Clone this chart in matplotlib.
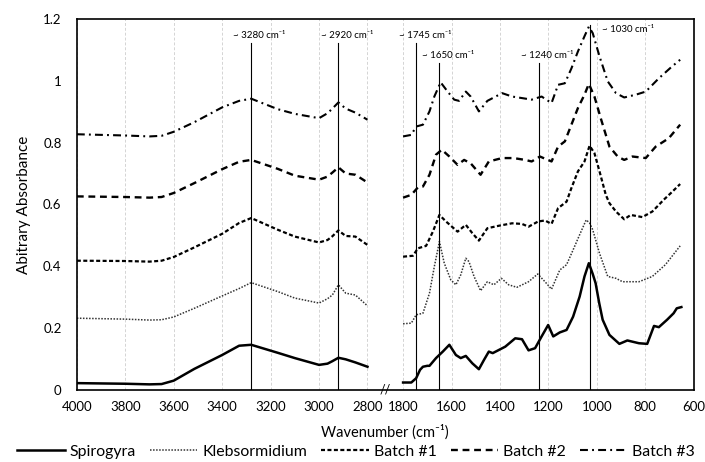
import numpy as np
import matplotlib
matplotlib.use('Agg')
import matplotlib.pyplot as plt
from matplotlib.ticker import NullLocator

plt.rcParams['font.family'] = ['Lato', 'DejaVu Sans']

# wavenumber readings, high-wavenumber block (4000-2800 cm-1)
left_wn = [4000, 3800, 3700, 3650, 3600, 3515, 3400, 3330, 3280, 3170, 3100,
           3000, 2965, 2945, 2920, 2890, 2850, 2800]
spiro_left = [0.022, 0.020, 0.018, 0.019, 0.030, 0.068, 0.113, 0.143, 0.146, 0.120, 0.103,
              0.081, 0.085, 0.093, 0.104, 0.099, 0.089, 0.075]
kleb_left = [0.232, 0.229, 0.226, 0.227, 0.236, 0.264, 0.304, 0.328, 0.347, 0.318, 0.297,
             0.281, 0.295, 0.307, 0.340, 0.313, 0.307, 0.272]
b1_left = [0.418, 0.417, 0.415, 0.418, 0.430, 0.461, 0.505, 0.540, 0.556, 0.518, 0.496,
           0.477, 0.485, 0.497, 0.516, 0.498, 0.496, 0.469]
b2_left = [0.626, 0.624, 0.622, 0.624, 0.637, 0.669, 0.714, 0.738, 0.744, 0.715, 0.693,
           0.680, 0.690, 0.703, 0.720, 0.700, 0.696, 0.671]
b3_left = [0.827, 0.823, 0.820, 0.822, 0.835, 0.866, 0.914, 0.935, 0.942, 0.908, 0.893,
           0.879, 0.895, 0.910, 0.930, 0.910, 0.897, 0.874]

# fingerprint block (1800-650 cm-1)
spiro_wn = [1800, 1766, 1746, 1730, 1718, 1700, 1691, 1664, 1636, 1609, 1582, 1562, 1541,
            1514, 1487, 1466, 1446, 1430, 1378, 1337, 1309, 1282, 1255, 1228, 1201, 1180,
            1153, 1125, 1098, 1071, 1051, 1033, 1017, 1005, 990, 976, 948, 907, 874, 826,
            792, 764, 744, 710, 683, 670, 651]
spiro_right = [0.024, 0.024, 0.038, 0.065, 0.075, 0.078, 0.078, 0.103, 0.124, 0.146, 0.113,
               0.103, 0.110, 0.086, 0.067, 0.097, 0.124, 0.119, 0.140, 0.167, 0.164, 0.128,
               0.135, 0.173, 0.210, 0.173, 0.186, 0.194, 0.237, 0.302, 0.367, 0.410, 0.375,
               0.345, 0.280, 0.227, 0.178, 0.149, 0.160, 0.151, 0.149, 0.207, 0.203, 0.227,
               0.248, 0.264, 0.268]
kleb_wn = [1800, 1766, 1746, 1718, 1691, 1671, 1650, 1630, 1603, 1582, 1562, 1541, 1528,
           1507, 1480, 1452, 1425, 1394, 1364, 1330, 1282, 1244, 1214, 1187, 1153, 1125,
           1098, 1071, 1044, 1030, 1017, 989, 955, 921, 894, 826, 771, 717, 656]
kleb_right = [0.214, 0.216, 0.243, 0.248, 0.313, 0.399, 0.480, 0.410, 0.356, 0.340, 0.372,
              0.426, 0.415, 0.367, 0.321, 0.350, 0.340, 0.361, 0.340, 0.332, 0.350, 0.375,
              0.350, 0.326, 0.388, 0.405, 0.453, 0.502, 0.550, 0.540, 0.518, 0.442, 0.367,
              0.361, 0.350, 0.350, 0.367, 0.405, 0.466]
b1_wn = [1800, 1759, 1739, 1705, 1677, 1650, 1623, 1575, 1541, 1514, 1487, 1452, 1405, 1350,
         1309, 1282, 1242, 1214, 1187, 1160, 1125, 1105, 1078, 1051, 1030, 1010, 989, 963,
         948, 921, 887, 860, 812, 771, 751, 724, 690, 656]
b1_right = [0.431, 0.434, 0.458, 0.466, 0.512, 0.566, 0.545, 0.512, 0.534, 0.507, 0.483,
            0.523, 0.531, 0.539, 0.537, 0.528, 0.545, 0.548, 0.537, 0.588, 0.609, 0.653,
            0.707, 0.739, 0.790, 0.766, 0.707, 0.631, 0.604, 0.577, 0.552, 0.566, 0.559,
            0.577, 0.593, 0.615, 0.640, 0.666]
b2_wn = [1800, 1766, 1739, 1718, 1691, 1664, 1640, 1609, 1575, 1548, 1521, 1480, 1446, 1391,
         1344, 1296, 1269, 1235, 1187, 1160, 1132, 1105, 1078, 1051, 1033, 1010, 982, 948,
         914, 887, 853, 798, 757, 703, 656]
b2_right = [0.622, 0.631, 0.655, 0.658, 0.696, 0.761, 0.777, 0.755, 0.728, 0.744, 0.733,
            0.696, 0.739, 0.750, 0.750, 0.744, 0.739, 0.755, 0.739, 0.787, 0.804, 0.858,
            0.912, 0.955, 0.990, 0.949, 0.874, 0.787, 0.755, 0.744, 0.755, 0.750, 0.787,
            0.814, 0.858]
b3_wn = [1800, 1766, 1746, 1718, 1691, 1671, 1645, 1616, 1589, 1569, 1541, 1521, 1487, 1452,
         1391, 1350, 1309, 1269, 1228, 1187, 1160, 1132, 1105, 1078, 1051, 1033, 1017, 989,
         955, 921, 887, 839, 798, 744, 690, 656]
b3_right = [0.820, 0.825, 0.852, 0.858, 0.901, 0.949, 0.995, 0.965, 0.939, 0.935, 0.965,
            0.949, 0.901, 0.935, 0.960, 0.949, 0.944, 0.939, 0.949, 0.928, 0.987, 0.992,
            1.040, 1.095, 1.144, 1.175, 1.154, 1.079, 0.998, 0.960, 0.946, 0.955, 0.965,
            1.008, 1.046, 1.068]

names = ['Spirogyra', 'Klebsormidium', 'Batch #1', 'Batch #2', 'Batch #3']

# marker lines for the assigned bands
band_wn = [3280, 2920, 1745, 1650, 1240, 1030]
band_top = [1.123, 1.123, 1.123, 1.057, 1.057, 1.18]
band_text = ['~ 3280 cm⁻¹', '~ 2920 cm⁻¹', '~ 1745 cm⁻¹', '~ 1650 cm⁻¹',
             '~ 1240 cm⁻¹', '~ 1030 cm⁻¹']

xticks = [4000, 3800, 3600, 3400, 3200, 3000, 2800, 1800, 1600, 1400, 1200, 1000, 800, 600]
yticks = [0, 0.2, 0.4, 0.6, 0.8, 1.0, 1.2]
ytick_labels = ['0', '0.2', '0.4', '0.6', '0.8', '1', '1.2']

# squeeze the empty 2800-1800 region into a narrow gap
GAP = 0.147


def fwd(w):
    w = np.asarray(w, dtype=float)
    return np.where(w <= 1800, w,
                    np.where(w >= 2800, w - 1000 * (1 - GAP), 1800 + (w - 1800) * GAP))


def inv(x):
    x = np.asarray(x, dtype=float)
    top = 1800 + 1000 * GAP
    return np.where(x <= 1800, x,
                    np.where(x >= top, x + 1000 * (1 - GAP), 1800 + (x - 1800) / GAP))


fig, ax = plt.subplots(figsize=(7.05, 4.62), dpi=100)
fig.subplots_adjust(left=0.109, right=0.984, top=0.959, bottom=0.156)
ax.set_xscale('function', functions=(fwd, inv))

styles = [
    dict(color='black', lw=1.8, ls='-'),
    dict(color='#333333', lw=1.1, ls=(0, (1, 1))),
    dict(color='black', lw=1.6, ls=(0, (1.8, 1.1))),
    dict(color='black', lw=1.7, ls=(0, (2.9, 2.0))),
    dict(color='black', lw=1.5, ls=(0, (3.8, 2.0, 0.9, 2.0))),
]
lefts = [spiro_left, kleb_left, b1_left, b2_left, b3_left]
rights = [(spiro_wn, spiro_right), (kleb_wn, kleb_right), (b1_wn, b1_right),
          (b2_wn, b2_right), (b3_wn, b3_right)]

handles = []
for name, st, lv, (rw, rv) in zip(names, styles, lefts, rights):
    h, = ax.plot(left_wn, lv, label=name, **st)
    ax.plot(rw, rv, **st)
    handles.append(h)

offsets = [(6, 2, 'center', 'bottom'), (6, 2, 'center', 'bottom'), (6, 2, 'center', 'bottom'),
           (6, 2, 'center', 'bottom'), (6, 2, 'center', 'bottom'), (9, -3, 'left', 'center')]
for wn, top, txt, (dx, dy, ha, va) in zip(band_wn, band_top, band_text, offsets):
    ax.plot([wn, wn], [0, top], color='black', lw=0.8)
    ax.annotate(txt, (wn, top), xytext=(dx, dy), textcoords='offset points',
                ha=ha, va=va, fontsize=7)

ax.set_xlim(4000, 600)
ax.set_ylim(0, 1.2)
ax.set_xticks(xticks)
ax.set_xticklabels([str(t) for t in xticks])
ax.xaxis.set_minor_locator(NullLocator())
ax.set_yticks(yticks)
ax.set_yticklabels(ytick_labels)
ax.tick_params(axis='x', length=0, labelsize=9.5, pad=8)
ax.tick_params(axis='y', length=0, labelsize=9.5, pad=11)
ax.grid(axis='x', ls=(0, (3, 2)), color='#d4d4d4', lw=0.7)
ax.set_axisbelow(True)
for sp in ax.spines.values():
    sp.set_linewidth(1.2)

# axis break mark
ax.text(2300, 0, '//', ha='center', va='center', fontsize=9, clip_on=False)

ax.set_xlabel('Wavenumber (cm⁻¹)', fontsize=10.5, labelpad=8)
ax.set_ylabel('Abitrary Absorbance', fontsize=11, labelpad=9)

fig.legend(handles, names, loc='center', bbox_to_anchor=(0.505, 0.022), ncol=5,
           frameon=False, fontsize=11.4, handlelength=3.0, handletextpad=0.3,
           columnspacing=0.9, borderaxespad=0)

fig.savefig('out.png', dpi=100)
